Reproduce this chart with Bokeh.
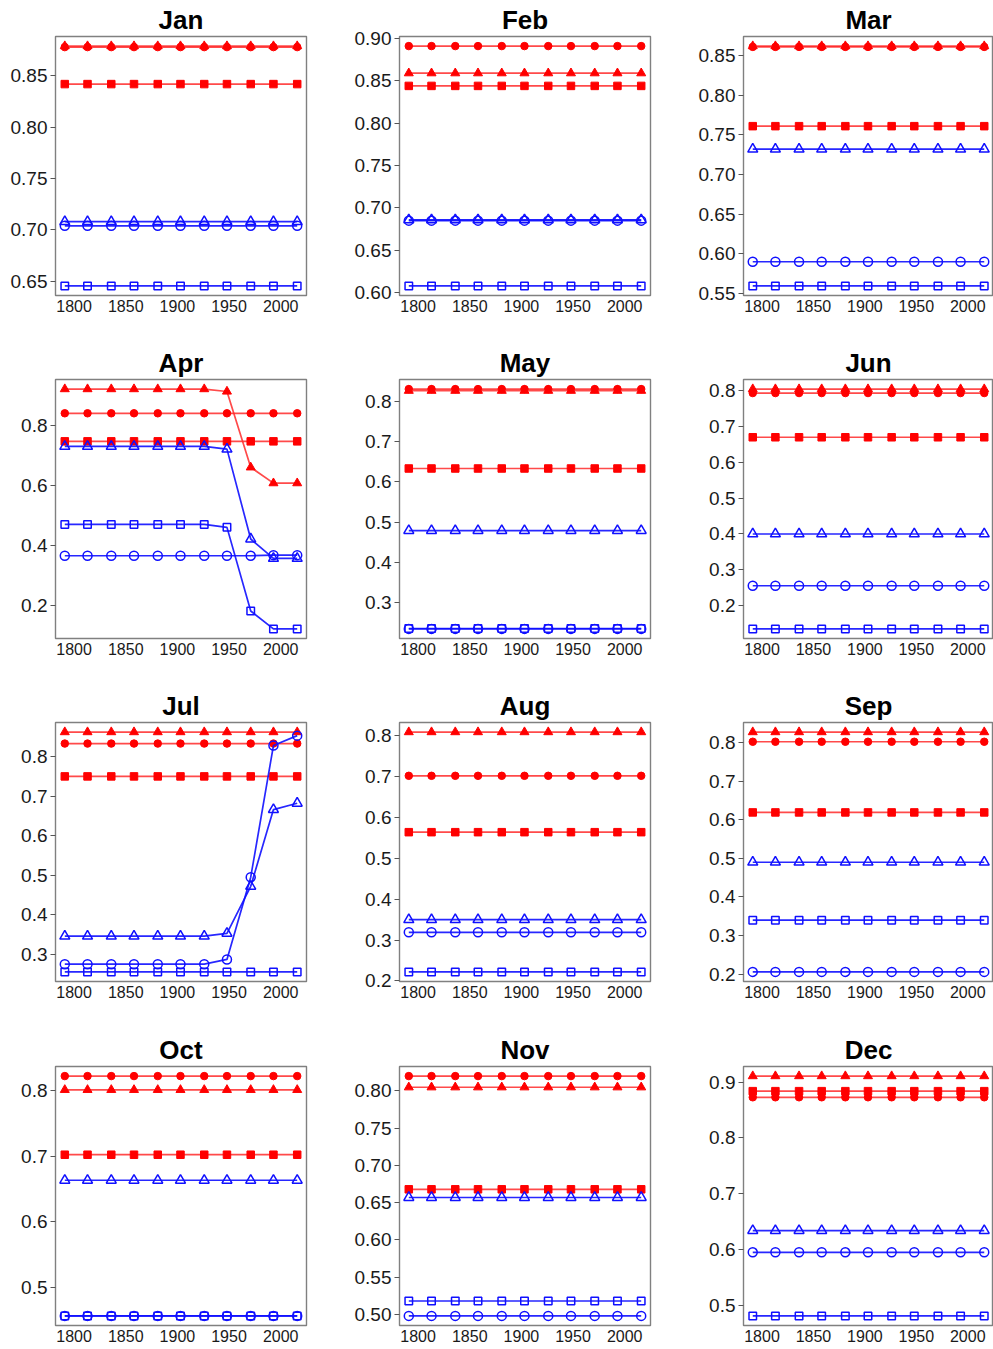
from bokeh.plotting import figure
from bokeh.layouts import gridplot
from bokeh.models import Range1d, FixedTicker, PrintfTickFormatter
from bokeh.embed import file_html
from bokeh.resources import INLINE

months = ["Jan", "Feb", "Mar", "Apr", "May", "Jun",
          "Jul", "Aug", "Sep", "Oct", "Nov", "Dec"]

years = [1791, 1813, 1836, 1858, 1881, 1903, 1926, 1948, 1971, 1993, 2016]
year_ticks = [1800, 1850, 1900, 1950, 2000]

# y-axis tick labels for each panel
y_tick_labels = {
    "Jan": ["0.65", "0.70", "0.75", "0.80", "0.85"],
    "Feb": ["0.60", "0.65", "0.70", "0.75", "0.80", "0.85", "0.90"],
    "Mar": ["0.55", "0.60", "0.65", "0.70", "0.75", "0.80", "0.85"],
    "Apr": ["0.2", "0.4", "0.6", "0.8"],
    "May": ["0.3", "0.4", "0.5", "0.6", "0.7", "0.8"],
    "Jun": ["0.2", "0.3", "0.4", "0.5", "0.6", "0.7", "0.8"],
    "Jul": ["0.3", "0.4", "0.5", "0.6", "0.7", "0.8"],
    "Aug": ["0.2", "0.3", "0.4", "0.5", "0.6", "0.7", "0.8"],
    "Sep": ["0.2", "0.3", "0.4", "0.5", "0.6", "0.7", "0.8"],
    "Oct": ["0.5", "0.6", "0.7", "0.8"],
    "Nov": ["0.50", "0.55", "0.60", "0.65", "0.70", "0.75", "0.80"],
    "Dec": ["0.5", "0.6", "0.7", "0.8", "0.9"],
}

# red series (filled markers)
red_circle = {
    "Jan": [0.878, 0.878, 0.878, 0.878, 0.878, 0.878, 0.878, 0.878, 0.878, 0.878, 0.878],
    "Feb": [0.891, 0.891, 0.891, 0.891, 0.891, 0.891, 0.891, 0.891, 0.891, 0.891, 0.891],
    "Mar": [0.861, 0.861, 0.861, 0.861, 0.861, 0.861, 0.861, 0.861, 0.861, 0.861, 0.861],
    "Apr": [0.842, 0.842, 0.842, 0.842, 0.842, 0.842, 0.842, 0.842, 0.842, 0.842, 0.842],
    "May": [0.830, 0.830, 0.830, 0.830, 0.830, 0.830, 0.830, 0.830, 0.830, 0.830, 0.830],
    "Jun": [0.792, 0.792, 0.792, 0.792, 0.792, 0.792, 0.792, 0.792, 0.792, 0.792, 0.792],
    "Jul": [0.833, 0.833, 0.833, 0.833, 0.833, 0.833, 0.833, 0.833, 0.833, 0.833, 0.833],
    "Aug": [0.702, 0.702, 0.702, 0.702, 0.702, 0.702, 0.702, 0.702, 0.702, 0.702, 0.702],
    "Sep": [0.802, 0.802, 0.802, 0.802, 0.802, 0.802, 0.802, 0.802, 0.802, 0.802, 0.802],
    "Oct": [0.822, 0.822, 0.822, 0.822, 0.822, 0.822, 0.822, 0.822, 0.822, 0.822, 0.822],
    "Nov": [0.820, 0.820, 0.820, 0.820, 0.820, 0.820, 0.820, 0.820, 0.820, 0.820, 0.820],
    "Dec": [0.873, 0.873, 0.873, 0.873, 0.873, 0.873, 0.873, 0.873, 0.873, 0.873, 0.873],
}
red_triangle = {
    "Jan": [0.879, 0.879, 0.879, 0.879, 0.879, 0.879, 0.879, 0.879, 0.879, 0.879, 0.879],
    "Feb": [0.859, 0.859, 0.859, 0.859, 0.859, 0.859, 0.859, 0.859, 0.859, 0.859, 0.859],
    "Mar": [0.862, 0.862, 0.862, 0.862, 0.862, 0.862, 0.862, 0.862, 0.862, 0.862, 0.862],
    "Apr": [0.923, 0.923, 0.923, 0.923, 0.923, 0.923, 0.923, 0.915, 0.661, 0.608, 0.608],
    "May": [0.826, 0.826, 0.826, 0.826, 0.826, 0.826, 0.826, 0.826, 0.826, 0.826, 0.826],
    "Jun": [0.803, 0.803, 0.803, 0.803, 0.803, 0.803, 0.803, 0.803, 0.803, 0.803, 0.803],
    "Jul": [0.862, 0.862, 0.862, 0.862, 0.862, 0.862, 0.862, 0.862, 0.862, 0.862, 0.862],
    "Aug": [0.809, 0.809, 0.809, 0.809, 0.809, 0.809, 0.809, 0.809, 0.809, 0.809, 0.809],
    "Sep": [0.827, 0.827, 0.827, 0.827, 0.827, 0.827, 0.827, 0.827, 0.827, 0.827, 0.827],
    "Oct": [0.801, 0.801, 0.801, 0.801, 0.801, 0.801, 0.801, 0.801, 0.801, 0.801, 0.801],
    "Nov": [0.805, 0.805, 0.805, 0.805, 0.805, 0.805, 0.805, 0.805, 0.805, 0.805, 0.805],
    "Dec": [0.911, 0.911, 0.911, 0.911, 0.911, 0.911, 0.911, 0.911, 0.911, 0.911, 0.911],
}
red_square = {
    "Jan": [0.842, 0.842, 0.842, 0.842, 0.842, 0.842, 0.842, 0.842, 0.842, 0.842, 0.842],
    "Feb": [0.844, 0.844, 0.844, 0.844, 0.844, 0.844, 0.844, 0.844, 0.844, 0.844, 0.844],
    "Mar": [0.761, 0.761, 0.761, 0.761, 0.761, 0.761, 0.761, 0.761, 0.761, 0.761, 0.761],
    "Apr": [0.748, 0.748, 0.748, 0.748, 0.748, 0.748, 0.748, 0.748, 0.748, 0.748, 0.748],
    "May": [0.633, 0.633, 0.633, 0.633, 0.633, 0.633, 0.633, 0.633, 0.633, 0.633, 0.633],
    "Jun": [0.669, 0.669, 0.669, 0.669, 0.669, 0.669, 0.669, 0.669, 0.669, 0.669, 0.669],
    "Jul": [0.750, 0.750, 0.750, 0.750, 0.750, 0.750, 0.750, 0.750, 0.750, 0.750, 0.750],
    "Aug": [0.564, 0.564, 0.564, 0.564, 0.564, 0.564, 0.564, 0.564, 0.564, 0.564, 0.564],
    "Sep": [0.619, 0.619, 0.619, 0.619, 0.619, 0.619, 0.619, 0.619, 0.619, 0.619, 0.619],
    "Oct": [0.702, 0.702, 0.702, 0.702, 0.702, 0.702, 0.702, 0.702, 0.702, 0.702, 0.702],
    "Nov": [0.668, 0.668, 0.668, 0.668, 0.668, 0.668, 0.668, 0.668, 0.668, 0.668, 0.668],
    "Dec": [0.884, 0.884, 0.884, 0.884, 0.884, 0.884, 0.884, 0.884, 0.884, 0.884, 0.884],
}

# blue series (open markers)
blue_circle = {
    "Jan": [0.704, 0.704, 0.704, 0.704, 0.704, 0.704, 0.704, 0.704, 0.704, 0.704, 0.704],
    "Feb": [0.685, 0.685, 0.685, 0.685, 0.685, 0.685, 0.685, 0.685, 0.685, 0.685, 0.685],
    "Mar": [0.590, 0.590, 0.590, 0.590, 0.590, 0.590, 0.590, 0.590, 0.590, 0.590, 0.590],
    "Apr": [0.365, 0.365, 0.365, 0.365, 0.365, 0.365, 0.365, 0.365, 0.365, 0.367, 0.367],
    "May": [0.235, 0.235, 0.235, 0.235, 0.235, 0.235, 0.235, 0.235, 0.235, 0.235, 0.235],
    "Jun": [0.256, 0.256, 0.256, 0.256, 0.256, 0.256, 0.256, 0.256, 0.256, 0.256, 0.256],
    "Jul": [0.275, 0.275, 0.275, 0.275, 0.275, 0.275, 0.275, 0.287, 0.495, 0.828, 0.853],
    "Aug": [0.319, 0.319, 0.319, 0.319, 0.319, 0.319, 0.319, 0.319, 0.319, 0.319, 0.319],
    "Sep": [0.206, 0.206, 0.206, 0.206, 0.206, 0.206, 0.206, 0.206, 0.206, 0.206, 0.206],
    "Oct": [0.456, 0.456, 0.456, 0.456, 0.456, 0.456, 0.456, 0.456, 0.456, 0.456, 0.456],
    "Nov": [0.498, 0.498, 0.498, 0.498, 0.498, 0.498, 0.498, 0.498, 0.498, 0.498, 0.498],
    "Dec": [0.595, 0.595, 0.595, 0.595, 0.595, 0.595, 0.595, 0.595, 0.595, 0.595, 0.595],
}
blue_triangle = {
    "Jan": [0.708, 0.708, 0.708, 0.708, 0.708, 0.708, 0.708, 0.708, 0.708, 0.708, 0.708],
    "Feb": [0.686, 0.686, 0.686, 0.686, 0.686, 0.686, 0.686, 0.686, 0.686, 0.686, 0.686],
    "Mar": [0.732, 0.732, 0.732, 0.732, 0.732, 0.732, 0.732, 0.732, 0.732, 0.732, 0.732],
    "Apr": [0.731, 0.731, 0.731, 0.731, 0.731, 0.731, 0.731, 0.722, 0.421, 0.356, 0.356],
    "May": [0.479, 0.479, 0.479, 0.479, 0.479, 0.479, 0.479, 0.479, 0.479, 0.479, 0.479],
    "Jun": [0.400, 0.400, 0.400, 0.400, 0.400, 0.400, 0.400, 0.400, 0.400, 0.400, 0.400],
    "Jul": [0.346, 0.346, 0.346, 0.346, 0.346, 0.346, 0.346, 0.353, 0.472, 0.666, 0.682],
    "Aug": [0.350, 0.350, 0.350, 0.350, 0.350, 0.350, 0.350, 0.350, 0.350, 0.350, 0.350],
    "Sep": [0.490, 0.490, 0.490, 0.490, 0.490, 0.490, 0.490, 0.490, 0.490, 0.490, 0.490],
    "Oct": [0.663, 0.663, 0.663, 0.663, 0.663, 0.663, 0.663, 0.663, 0.663, 0.663, 0.663],
    "Nov": [0.657, 0.657, 0.657, 0.657, 0.657, 0.657, 0.657, 0.657, 0.657, 0.657, 0.657],
    "Dec": [0.634, 0.634, 0.634, 0.634, 0.634, 0.634, 0.634, 0.634, 0.634, 0.634, 0.634],
}
blue_square = {
    "Jan": [0.6455, 0.6455, 0.6455, 0.6455, 0.6455, 0.6455, 0.6455, 0.6455, 0.6455, 0.6455, 0.6455],
    "Feb": [0.608, 0.608, 0.608, 0.608, 0.608, 0.608, 0.608, 0.608, 0.608, 0.608, 0.608],
    "Mar": [0.5595, 0.5595, 0.5595, 0.5595, 0.5595, 0.5595, 0.5595, 0.5595, 0.5595, 0.5595, 0.5595],
    "Apr": [0.470, 0.470, 0.470, 0.470, 0.470, 0.470, 0.470, 0.460, 0.180, 0.120, 0.120],
    "May": [0.236, 0.236, 0.236, 0.236, 0.236, 0.236, 0.236, 0.236, 0.236, 0.236, 0.236],
    "Jun": [0.136, 0.136, 0.136, 0.136, 0.136, 0.136, 0.136, 0.136, 0.136, 0.136, 0.136],
    "Jul": [0.2555, 0.2555, 0.2555, 0.2555, 0.2555, 0.2555, 0.2555, 0.2555, 0.2555, 0.2555, 0.2555],
    "Aug": [0.222, 0.222, 0.222, 0.222, 0.222, 0.222, 0.222, 0.222, 0.222, 0.222, 0.222],
    "Sep": [0.340, 0.340, 0.340, 0.340, 0.340, 0.340, 0.340, 0.340, 0.340, 0.340, 0.340],
    "Oct": [0.456, 0.456, 0.456, 0.456, 0.456, 0.456, 0.456, 0.456, 0.456, 0.456, 0.456],
    "Nov": [0.518, 0.518, 0.518, 0.518, 0.518, 0.518, 0.518, 0.518, 0.518, 0.518, 0.518],
    "Dec": [0.481, 0.481, 0.481, 0.481, 0.481, 0.481, 0.481, 0.481, 0.481, 0.481, 0.481],
}

FONT = "Liberation Sans"
RED_LINE = "#ff2a2a"
RED_FILL = "#ff0000"
BLUE = "#1010ff"

# panel geometry: left borders per column, top/bottom borders per row
col_left = [55, 68, 81]
col_right = [25, 12, 0]
col_width = 331
row_top = [36, 36, 36, 37]
row_height = [343, 343, 343, 320]
frame_h = 259


def make_panel(idx, month):
    r, c = divmod(idx, 3)
    series = [red_circle[month], red_triangle[month], red_square[month],
              blue_circle[month], blue_triangle[month], blue_square[month]]
    lo = min(min(s) for s in series)
    hi = max(max(s) for s in series)
    pad = 0.04 * (hi - lo)
    span_x = years[-1] - years[0]

    p = figure(width=col_width, height=row_height[r],
               x_range=Range1d(years[0] - 0.04 * span_x, years[-1] + 0.04 * span_x),
               y_range=Range1d(lo - pad, hi + pad),
               output_backend="svg", toolbar_location=None,
               min_border_left=col_left[c], min_border_right=col_right[c],
               min_border_top=row_top[r],
               min_border_bottom=row_height[r] - row_top[r] - frame_h,
               title=month)
    p.background_fill_color = "white"
    p.border_fill_color = "white"
    p.outline_line_color = "#808080"
    p.outline_line_width = 1.4
    p.grid.visible = False

    p.title.align = "center"
    p.title.text_font = FONT
    p.title.text_font_size = "26px"
    p.title.text_font_style = "bold"
    p.title.text_color = "black"
    p.title.standoff = 4

    labels = y_tick_labels[month]
    decimals = len(labels[0].split(".")[1])
    p.yaxis.ticker = FixedTicker(ticks=[float(s) for s in labels])
    p.yaxis.formatter = PrintfTickFormatter(format="%%.%df" % decimals)
    p.yaxis.major_label_text_font = FONT
    p.yaxis.major_label_text_font_size = "19px"
    p.yaxis.major_label_text_color = "#1a1a1a"
    p.yaxis.major_label_standoff = 3
    p.yaxis.major_tick_out = 5
    p.yaxis.major_tick_in = 0
    p.yaxis.minor_tick_out = 0
    p.yaxis.minor_tick_in = 0
    p.yaxis.major_tick_line_color = "#555555"
    p.yaxis.axis_line_color = None

    p.xaxis.ticker = FixedTicker(ticks=year_ticks)
    p.xaxis.major_label_text_font = FONT
    p.xaxis.major_label_text_font_size = "16px"
    p.xaxis.major_label_text_color = "#1a1a1a"
    p.xaxis.major_label_standoff = 4
    p.xaxis.major_tick_out = 0
    p.xaxis.major_tick_in = 0
    p.xaxis.minor_tick_out = 0
    p.xaxis.minor_tick_in = 0
    p.xaxis.axis_line_color = None

    # red series: filled markers
    for vals, marker, size in [(red_circle[month], "circle", 7.5),
                               (red_triangle[month], "triangle", 9),
                               (red_square[month], "square", 7.5)]:
        p.line(years, vals, line_color=RED_LINE, line_width=1.7, line_alpha=0.85)
        p.scatter(years, vals, marker=marker, size=size,
                  fill_color=RED_FILL, line_color=RED_FILL)

    # blue series: open markers
    for vals, marker, size in [(blue_circle[month], "circle", 9),
                               (blue_triangle[month], "triangle", 10),
                               (blue_square[month], "square", 7.5)]:
        p.line(years, vals, line_color=BLUE, line_width=1.7, line_alpha=0.9)
        p.scatter(years, vals, marker=marker, size=size,
                  fill_color=None, line_color=BLUE, line_width=1.5)
    return p


panels = [make_panel(i, m) for i, m in enumerate(months)]
grid = gridplot([panels[i:i + 3] for i in range(0, 12, 3)], toolbar_location=None)

open("out.html", "w").write(file_html(grid, INLINE))
